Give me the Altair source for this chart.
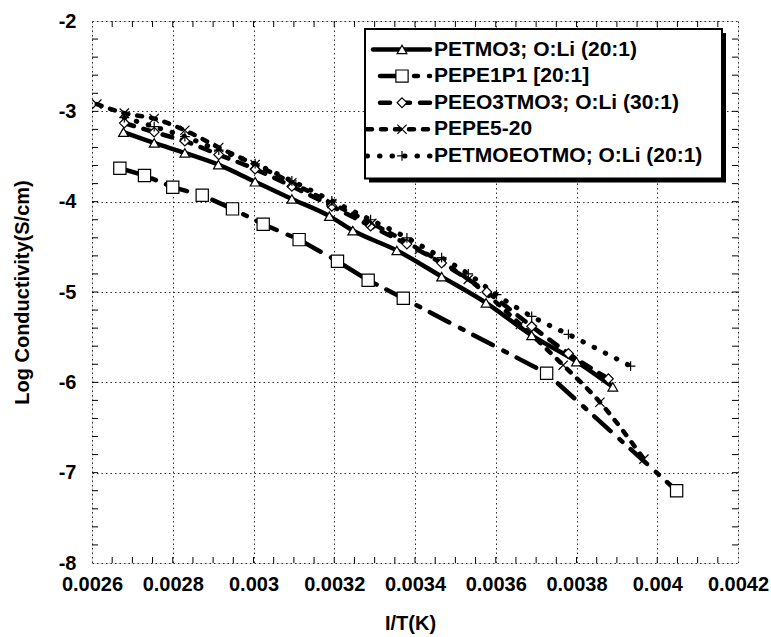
import altair as alt
import pandas as pd

# ---------------- data ----------------
series_names = [
    "PETMO3; O:Li (20:1)",
    "PEPE1P1 [20:1]",
    "PEEO3TMO3; O:Li (30:1)",
    "PEPE5-20",
    "PETMOEOTMO; O:Li (20:1)",
]

petmo3_x = [0.002678, 0.002754, 0.00283, 0.002913, 0.003004, 0.003095, 0.003188,
            0.003246, 0.003355, 0.003466, 0.003576, 0.003689, 0.0038, 0.00389]
petmo3_y = [-3.23, -3.35, -3.46, -3.59, -3.78, -3.97, -4.16,
            -4.32, -4.54, -4.83, -5.12, -5.48, -5.77, -6.05]

pepe1p1_x = [0.002669, 0.00273, 0.0028, 0.002873, 0.002948, 0.003024, 0.003113,
             0.003208, 0.003284, 0.003371, 0.003726, 0.004048]
pepe1p1_y = [-3.63, -3.71, -3.84, -3.93, -4.08, -4.25, -4.42,
             -4.66, -4.87, -5.07, -5.90, -7.20]

peeo3_x = [0.00268, 0.002754, 0.00283, 0.002914, 0.003004, 0.003095, 0.003194,
           0.00329, 0.00338, 0.003466, 0.003578, 0.003689, 0.00378, 0.003879]
peeo3_y = [-3.13, -3.23, -3.33, -3.48, -3.64, -3.83, -4.05,
           -4.27, -4.47, -4.68, -5.00, -5.38, -5.68, -5.96]

pepe520_x = [0.002612, 0.00268, 0.002754, 0.00283, 0.002914, 0.003004, 0.003095,
             0.003194, 0.003293, 0.003411, 0.003532, 0.003661, 0.003767, 0.003858, 0.003967]
pepe520_y = [-2.92, -3.02, -3.08, -3.21, -3.40, -3.59, -3.79,
             -4.02, -4.24, -4.53, -4.86, -5.36, -5.81, -6.22, -6.85]

petmoeo_x = [0.00268, 0.002754, 0.00283, 0.002914, 0.003004, 0.003095, 0.003194,
             0.00329, 0.00338, 0.003466, 0.003532, 0.003602, 0.003689, 0.00378, 0.003934]
petmoeo_y = [-3.07, -3.17, -3.28, -3.43, -3.58, -3.77, -3.99,
             -4.20, -4.40, -4.62, -4.80, -5.03, -5.27, -5.47, -5.82]

x_label_values = [0.0026, 0.0028, 0.003, 0.0032, 0.0034, 0.0036, 0.0038, 0.004, 0.0042]
y_label_values = [-8, -7, -6, -5, -4, -3, -2]
x_minor_ticks = [round(0.0026 + i * 0.00005, 6) for i in range(1, 32)]
y_minor_ticks = [round(-8 + i * 0.2, 2) for i in range(1, 30)]

# ---------------- styles ----------------
W, H = 646, 542
FONT = "Liberation Sans, Arial, Helvetica, sans-serif"
dashes = [None, [22, 12, 4, 11], [10, 10], [5, 9], [0.5, 12]]
widths = [4.5, 4.5, 4.5, 4.5, 5]
interps = ["monotone", "linear", "monotone", "monotone", "monotone"]
shapes = ["triangle-up", "square", "diamond",
          "M-1,-1L1,1M-1,1L1,-1", "M-1,0L1,0M0,-1L0,1"]
sizes = [95, 150, 95, 85, 95]

xs_all = [petmo3_x, pepe1p1_x, peeo3_x, pepe520_x, petmoeo_x]
ys_all = [petmo3_y, pepe1p1_y, peeo3_y, pepe520_y, petmoeo_y]

rows = []
for name, xs, ys in zip(series_names, xs_all, ys_all):
    for i, (xv, yv) in enumerate(zip(xs, ys)):
        rows.append({"series": name, "x": xv, "y": yv, "order": i})
df = pd.DataFrame(rows)

xscale = alt.Scale(domain=[0.0026, 0.0042], nice=False, zero=False)
yscale = alt.Scale(domain=[-8, -2], nice=False, zero=False)

xaxis = alt.Axis(
    values=x_label_values, labelExpr="'' + datum.value", labelFlush=False,
    grid=True, gridDash=[1.5, 3], gridColor="black", gridWidth=1, gridOpacity=0.8,
    ticks=False, domain=False,
    labelFont=FONT, labelFontSize=20, labelFontWeight="bold", labelColor="black",
    labelPadding=11,
    title="I/T(K)", titleFont=FONT, titleFontSize=20, titleFontWeight="bold",
    titleColor="black", titleX=318, titleY=60, titleBaseline="middle", titleAlign="center",
)
yaxis = alt.Axis(
    values=y_label_values, labelExpr="'' + datum.value", labelFlush=False,
    grid=True, gridDash=[1.5, 3], gridColor="black", gridWidth=1, gridOpacity=0.8,
    ticks=False, domain=False,
    labelFont=FONT, labelFontSize=20, labelFontWeight="bold", labelColor="black",
    labelPadding=16,
    title="Log Conductivity(S/cm)", titleFont=FONT, titleFontSize=20,
    titleFontWeight="bold", titleColor="black", titleX=-70, titleY=H / 2,
    titleAngle=270, titleBaseline="middle", titleAlign="center",
)


def X(field):
    return alt.X(field, type="quantitative", scale=xscale, axis=xaxis)


def Y(field):
    return alt.Y(field, type="quantitative", scale=yscale, axis=yaxis)


layers = []

# tick marks (inward, mirrored on all four sides)
xt = pd.DataFrame({"t": x_minor_ticks})
yt = pd.DataFrame({"t": y_minor_ticks})
for ypos, sign in [(H, -1), (0, 1)]:
    layers.append(alt.Chart(xt).mark_rule(color="black", strokeWidth=1).encode(
        x=X("t"), y=alt.value(ypos), y2=alt.value(ypos + sign * 6)))
for xpos, sign in [(0, 1), (W, -1)]:
    layers.append(alt.Chart(yt).mark_rule(color="black", strokeWidth=1).encode(
        y=Y("t"), x=alt.value(xpos), x2=alt.value(xpos + sign * 6)))

# series lines
for name, dsh, wd, ip in zip(series_names, dashes, widths, interps):
    kw = dict(color="black", strokeWidth=wd, strokeCap="round", interpolate=ip)
    if dsh:
        kw["strokeDash"] = dsh
    layers.append(alt.Chart(df).transform_filter(alt.datum.series == name)
                  .mark_line(**kw).encode(x=X("x"), y=Y("y"), order="order:Q"))

# series markers
for name, shp, sz in zip(series_names, shapes, sizes):
    layers.append(alt.Chart(df).transform_filter(alt.datum.series == name)
                  .mark_point(shape=shp, size=sz, filled=True, fill="white",
                              stroke="black", strokeWidth=1.2, opacity=1)
                  .encode(x=X("x"), y=Y("y")))

# legend box with shadow
box = pd.DataFrame({"k": [0]})
layers.append(alt.Chart(box).mark_rect(color="black").encode(
    x=alt.value(277), x2=alt.value(634), y=alt.value(12), y2=alt.value(161.5)))
layers.append(alt.Chart(box).mark_rect(fill="white", stroke="black", strokeWidth=2).encode(
    x=alt.value(273), x2=alt.value(630), y=alt.value(8), y2=alt.value(157.5)))

leg_x1 = [281, 288, 288, 275, 275]
for i, (name, dsh, wd, shp, sz) in enumerate(zip(series_names, dashes, widths, shapes, sizes)):
    ly = 28.5 + 26.6 * i
    one = pd.DataFrame({"series": [name]})
    kw = dict(color="black", strokeWidth=wd, strokeCap="round")
    if dsh:
        kw["strokeDash"] = dsh
    layers.append(alt.Chart(one).mark_rule(**kw).encode(
        x=alt.value(leg_x1[i]), x2=alt.value(338), y=alt.value(ly)))
    layers.append(alt.Chart(one).mark_point(shape=shp, size=sz, filled=True, fill="white",
                                            stroke="black", strokeWidth=1.2, opacity=1)
                  .encode(x=alt.value(310), y=alt.value(ly)))
    layers.append(alt.Chart(one).mark_text(align="left", baseline="middle", font=FONT,
                                           fontSize=21, fontWeight="bold", color="black")
                  .encode(x=alt.value(342), y=alt.value(ly), text="series:N"))

chart = alt.layer(*layers).properties(
    width=W, height=H,
    padding={"left": 92, "top": 21, "right": 33, "bottom": 74},
    autosize=alt.AutoSizeParams(type="none"),
).configure_view(stroke="black", strokeWidth=1.5).configure(background="white")

chart.save("out.html", embed_options={"renderer": "svg", "actions": False})
